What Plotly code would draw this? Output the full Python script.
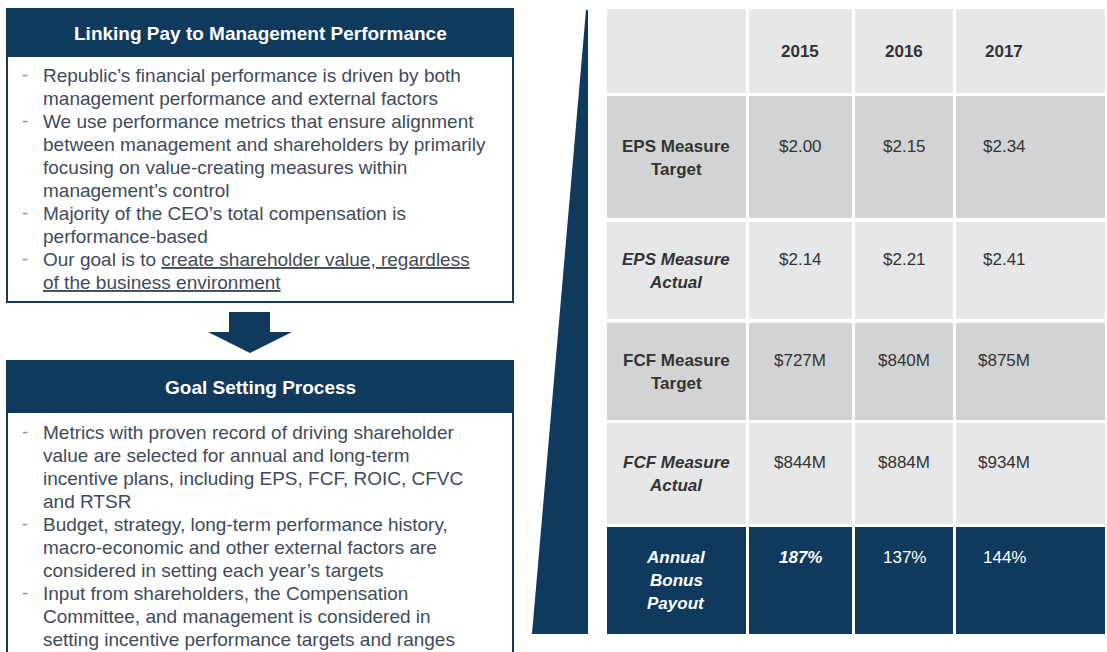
import plotly.graph_objects as go

# ---------------- data ----------------
box1_title = "Linking Pay to Management Performance"
box1_lines = [
    ("-", "Republic\u2019s financial performance is driven by both"),
    ("", "management performance and external factors"),
    ("-", "We use performance metrics that ensure alignment"),
    ("", "between management and shareholders by primarily"),
    ("", "focusing on value-creating measures within"),
    ("", "management\u2019s control"),
    ("-", "Majority of the CEO\u2019s total compensation is"),
    ("", "performance-based"),
    ("-", "Our goal is to <u>create shareholder value, regardless</u>"),
    ("", "<u>of the business environment</u>"),
]
box2_title = "Goal Setting Process"
box2_lines = [
    ("-", "Metrics with proven record of driving shareholder"),
    ("", "value are selected for annual and long-term"),
    ("", "incentive plans, including EPS, FCF, ROIC, CFVC"),
    ("", "and RTSR"),
    ("-", "Budget, strategy, long-term performance history,"),
    ("", "macro-economic and other external factors are"),
    ("", "considered in setting each year\u2019s targets"),
    ("-", "Input from shareholders, the Compensation"),
    ("", "Committee, and management is considered in"),
    ("", "setting incentive performance targets and ranges"),
]

years = ["2015", "2016", "2017"]
row_labels = [
    ["EPS Measure", "Target"],
    ["EPS Measure", "Actual"],
    ["FCF Measure", "Target"],
    ["FCF Measure", "Actual"],
    ["Annual", "Bonus", "Payout"],
]
row_label_italic = [False, True, False, True, True]
eps_target = ["$2.00", "$2.15", "$2.34"]
eps_actual = ["$2.14", "$2.21", "$2.41"]
fcf_target = ["$727M", "$840M", "$875M"]
fcf_actual = ["$844M", "$884M", "$934M"]
bonus_payout = ["<b><i>187%</i></b>", "137%", "144%"]
row_values = [eps_target, eps_actual, fcf_target, fcf_actual, bonus_payout]

# ---------------- style ----------------
NAVY = "#10395e"
LIGHT = "#e6e7e8"
MID = "#d2d3d5"
TXT = "#3f4b5b"
TBL = "#333333"
FONT = "Liberation Sans, Arial, sans-serif"

fig = go.Figure()
shapes = []
ann = []

def rect(x0, y0, x1, y1, fill, line=None, lw=0):
    shapes.append(dict(type="rect", xref="x", yref="y", x0=x0, y0=y0, x1=x1, y1=y1,
                       fillcolor=fill, line=dict(color=line or fill, width=lw), layer="below"))

def text(x, y, s, size=19, color=TXT, xanchor="center", yanchor="middle", align="center"):
    ann.append(dict(x=x, y=y, xref="x", yref="y", text=s, showarrow=False,
                    font=dict(family=FONT, size=size, color=color),
                    xanchor=xanchor, yanchor=yanchor, align=align))

# ---- left boxes ----
def box(top, head_bottom, bottom, title, lines, first_y):
    rect(7, top, 513, bottom, "white", NAVY, 2)
    rect(7, top, 513, head_bottom, NAVY, NAVY, 2)
    text(260, (top + head_bottom) / 2 + 1, "<b>" + title + "</b>", size=19, color="white")
    for i, (dash, s) in enumerate(lines):
        y = first_y + i * 23.0
        if dash:
            text(25, y, dash, size=18, color="#8a939d")
        text(41, y, s, size=19, color=TXT, xanchor="left", align="left")

box(9, 56, 302, box1_title, box1_lines, 75)
box(361, 412, 670, box2_title, box2_lines, 432)

# arrow
shapes.append(dict(type="path", xref="x", yref="y",
                   path="M 229,312 L 270,312 L 270,332 L 292,332 L 250,353 L 208,332 L 229,332 Z",
                   fillcolor=NAVY, line=dict(color=NAVY, width=0)))

# wedge
shapes.append(dict(type="path", xref="x", yref="y",
                   path="M 586,10 L 588,10 L 588,634 L 532,634 Z",
                   fillcolor=NAVY, line=dict(color=NAVY, width=0)))

# ---- table ----
col_x = [(607, 746), (749, 852), (855, 953), (956, 1105)]
col_tx = [676, 800, 904, 1004]
row_y = [(9, 93), (96, 218), (222, 319), (323, 420), (423, 524), (527, 634)]
row_fill = [LIGHT, MID, LIGHT, MID, LIGHT, NAVY]
val_y = [None, 146, 259, 360, 462, 557]

for r, (y0, y1) in enumerate(row_y):
    for c, (x0, x1) in enumerate(col_x):
        rect(x0, y0, x1, y1, row_fill[r])

for c, yr in enumerate(years):
    text(col_tx[c + 1], 51, "<b>" + yr + "</b>", size=17, color=TBL)

for r, lab in enumerate(row_labels):
    col = "white" if r == 4 else TBL
    for k, line in enumerate(lab):
        s = "<b><i>" + line + "</i></b>" if row_label_italic[r] else "<b>" + line + "</b>"
        text(col_tx[0], val_y[r + 1] + 23 * k, s, size=17, color=col)
    for c, v in enumerate(row_values[r]):
        text(col_tx[c + 1], val_y[r + 1], v, size=17, color=col)

fig.update_layout(
    width=1107, height=652,
    margin=dict(l=0, r=0, t=0, b=0),
    paper_bgcolor="white", plot_bgcolor="white",
    xaxis=dict(range=[0, 1107], visible=False, fixedrange=True),
    yaxis=dict(range=[652, 0], visible=False, fixedrange=True),
    shapes=shapes, annotations=ann, showlegend=False,
)
fig.write_html("out.html", config={"displayModeBar": False},
               post_script="document.body.style.margin='0';document.body.style.overflow='hidden';")
